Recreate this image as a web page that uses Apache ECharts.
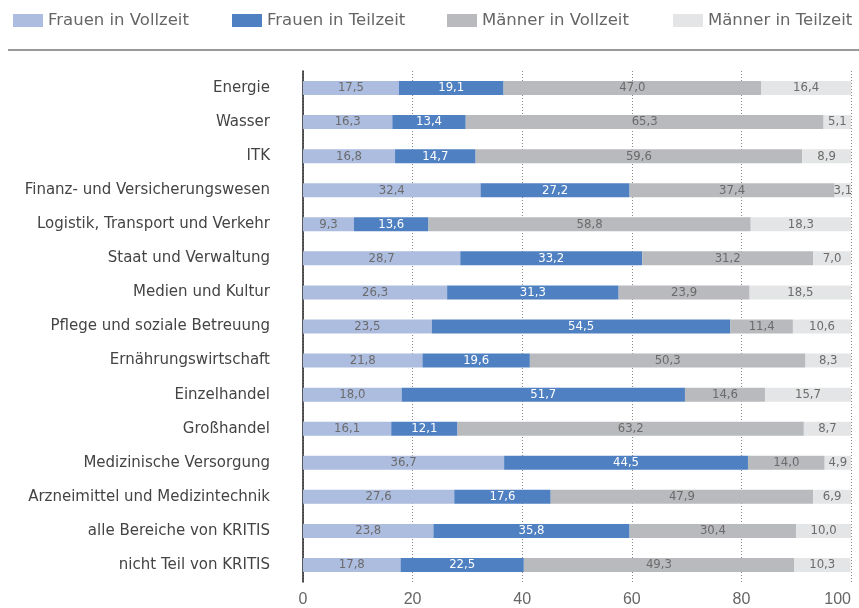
<!DOCTYPE html>
<html><head><meta charset="utf-8">
<script src="https://cdn.jsdelivr.net/npm/echarts@6/dist/echarts.min.js"></script>
<style>html,body{margin:0;padding:0;background:#fff;overflow:hidden}#c{width:859px;height:608px}</style>
</head><body><div id="c"></div>
<script>
const categories = ["Energie","Wasser","ITK","Finanz- und Versicherungswesen","Logistik, Transport und Verkehr","Staat und Verwaltung","Medien und Kultur","Pflege und soziale Betreuung","Ernährungswirtschaft","Einzelhandel","Großhandel","Medizinische Versorgung","Arzneimittel und Medizintechnik","alle Bereiche von KRITIS","nicht Teil von KRITIS"];
const seriesNames = ["Frauen in Vollzeit","Frauen in Teilzeit","Männer in Vollzeit","Männer in Teilzeit"];
const frauenVollzeit = [17.5,16.3,16.8,32.4,9.3,28.7,26.3,23.5,21.8,18.0,16.1,36.7,27.6,23.8,17.8];
const frauenTeilzeit = [19.1,13.4,14.7,27.2,13.6,33.2,31.3,54.5,19.6,51.7,12.1,44.5,17.6,35.8,22.5];
const maennerVollzeit = [47.0,65.3,59.6,37.4,58.8,31.2,23.9,11.4,50.3,14.6,63.2,14.0,47.9,30.4,49.3];
const maennerTeilzeit = [16.4,5.1,8.9,3.1,18.3,7.0,18.5,10.6,8.3,15.7,8.7,4.9,6.9,10.0,10.3];
const xTicks = [0,20,40,60,80,100];

const colors = ["#adbde0","#4f81c2","#b9babd","#e4e5e6"];
const labelColors = ["#6b6b6b","#ffffff","#6b6b6b","#6b6b6b"];
const allData = [frauenVollzeit, frauenTeilzeit, maennerVollzeit, maennerTeilzeit];
const legendLeft = [8, 227, 442, 668];

const chart = echarts.init(document.getElementById('c'));
chart.setOption({
  animation:false,
  color:colors,
  legend: seriesNames.map((n,i)=>({
    top:7, left:legendLeft[i], itemWidth:30, itemHeight:13, itemGap:0,
    textStyle:{color:'#666', fontSize:16.5, fontFamily:'DejaVu Sans', padding:[0,0,0,0]},
    icon:'rect', data:[n], selectedMode:false
  })),
  graphic:[{type:'line', shape:{x1:8,y1:50,x2:859,y2:50}, style:{stroke:'#777', lineWidth:1.5}}],
  grid:{left:303, right:8, top:71, bottom:26, containLabel:false, outerBoundsMode:'none'},
  xAxis:{
    type:'value', min:0, max:100, interval:20,
    axisLine:{show:false}, axisTick:{show:false},
    splitLine:{show:true, lineStyle:{color:'#888', type:[1,2], width:1}},
    axisLabel:{color:'#666', fontSize:16, fontFamily:'Liberation Sans', margin:10,
      alignMaxLabel:'right',
      formatter:v=>xTicks.includes(v)?String(v):''}
  },
  yAxis:{
    type:'category', data:categories, inverse:true,
    axisLine:{show:true, lineStyle:{color:'#222', width:1.5}},
    axisTick:{show:false},
    axisLabel:{color:'#444', fontSize:15, fontFamily:'DejaVu Sans', margin:33}
  },
  series: seriesNames.map((n,i)=>({
    name:n, type:'bar', stack:'s', barWidth:14,
    itemStyle:{color:colors[i]},
    label:{show:true, position:'inside', color:labelColors[i], fontSize:13,
      fontFamily:"'DejaVu Sans Condensed', 'Liberation Sans Narrow', Roboto",
      formatter:p=>p.value.toFixed(1).replace('.',',')},
    data:allData[i]
  }))
});
</script></body></html>
